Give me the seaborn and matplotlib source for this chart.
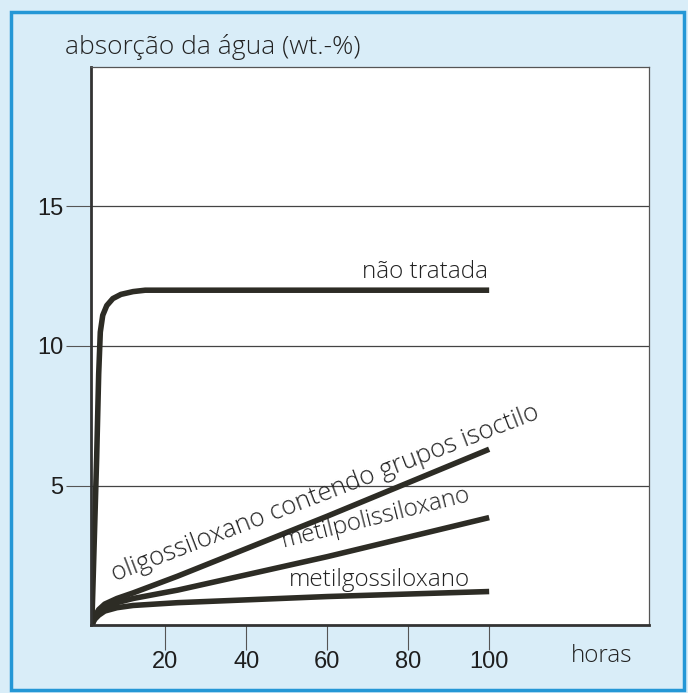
import matplotlib
matplotlib.use("Agg")
import matplotlib.pyplot as plt
import seaborn as sns
from matplotlib import font_manager
from matplotlib.patches import Rectangle

# curves (hours, wt.-%)
nao_x = [1.8, 2.4, 3.0, 3.5, 3.9, 4.5, 5.5, 7, 9, 12, 15, 100]
nao_y = [0, 3, 6, 9, 10.5, 11.1, 11.45, 11.7, 11.85, 11.95, 12.0, 12.0]

oligo_x = [1.8, 2.5, 3.5, 5, 8, 12, 23, 60, 100]
oligo_y = [0, 0.3, 0.55, 0.75, 0.95, 1.15, 1.75, 3.9, 6.3]

poli_x = [1.8, 2.5, 3.5, 5, 8, 12, 23, 40, 60, 80, 100]
poli_y = [0, 0.25, 0.45, 0.6, 0.8, 0.95, 1.25, 1.8, 2.45, 3.15, 3.85]

metg_x = [1.8, 2.5, 3.5, 5, 8, 12, 23, 60, 100]
metg_y = [0, 0.2, 0.35, 0.5, 0.62, 0.7, 0.8, 1.02, 1.2]

x_ticks = [20, 40, 60, 80, 100]
y_ticks = [5, 10, 15]

fonts = font_manager.fontManager.ttflist
names = {f.name for f in fonts}
num_font = "Liberation Sans Narrow" if "Liberation Sans Narrow" in names else "Liberation Sans"
txt_font = "Open Sans" if "Open Sans" in names else "DejaVu Sans"
has_light = any(f.name == txt_font and f.weight == 300 for f in fonts)
txt_weight = 300 if has_light else "normal"

sns.set_theme(style="white")
plt.rcParams["font.family"] = [txt_font, "DejaVu Sans"]

bg = "#d9edf8"
ink = "#2d2c25"
txt = "#222222"

fig = plt.figure(figsize=(6.88, 6.93), dpi=100)
fig.patch.set_facecolor(bg)
fig.patches.append(Rectangle((11 / 688, 3 / 693), 673 / 688, 678 / 693,
                             transform=fig.transFigure, fill=False,
                             edgecolor="#2497d6", lw=2.5))

ax = fig.add_axes([91 / 688, 68 / 693, 558 / 688, 558 / 693])
ax.set_facecolor("white")

for xs, ys in [(nao_x, nao_y), (oligo_x, oligo_y), (poli_x, poli_y), (metg_x, metg_y)]:
    sns.lineplot(x=xs, y=ys, ax=ax, color=ink, lw=4, sort=False,
                 estimator=None, solid_capstyle="butt")

ax.set_xlim(1.6, 139.5)
ax.set_ylim(0, 20)
ax.set_xticks(x_ticks)
ax.set_yticks(y_ticks)
ax.set_xticklabels([str(v) for v in x_ticks], fontfamily=num_font, fontsize=17, color="#1e1e1e")
ax.set_yticklabels([str(v) for v in y_ticks], fontfamily=num_font, fontsize=17, color="#1e1e1e")
ax.tick_params(axis="x", direction="out", length=18, width=0.8, color="#555555", pad=1, bottom=True)
ax.tick_params(axis="y", direction="out", length=18, width=0.8, color="#555555", pad=2, left=True)
ax.yaxis.grid(True, color="#444444", lw=0.9)
ax.set_axisbelow(True)

for side in ["left", "bottom"]:
    ax.spines[side].set_color("#333333")
    ax.spines[side].set_linewidth(2)
for side in ["top", "right"]:
    ax.spines[side].set_color("#555555")
    ax.spines[side].set_linewidth(0.9)

ax.set_xlabel("")
ax.set_ylabel("")

lab = dict(fontsize=17.5, color=txt, va="center", fontweight=txt_weight)
fig.text(65 / 688, 1 - 47 / 693, "absorção da água (wt.-%)", ha="left",
         **{**lab, "fontsize": 19})
fig.text(602 / 688, 1 - 656 / 693, "horas", ha="center", **lab)

fig.text(425 / 688, 1 - 272 / 693, "não tratada", ha="center", **lab)
fig.text(325 / 688, 1 - 494 / 693, "oligossiloxano contendo grupos isoctilo",
         rotation=21, rotation_mode="anchor", ha="center", **{**lab, "fontsize": 18.5})
fig.text(376 / 688, 1 - 518 / 693, "metilpolissiloxano", rotation=14,
         rotation_mode="anchor", ha="center", **lab)
fig.text(379 / 688, 1 - 580 / 693, "metilgossiloxano", ha="center", **lab)

fig.savefig("out.png", dpi=100, facecolor=fig.get_facecolor())
